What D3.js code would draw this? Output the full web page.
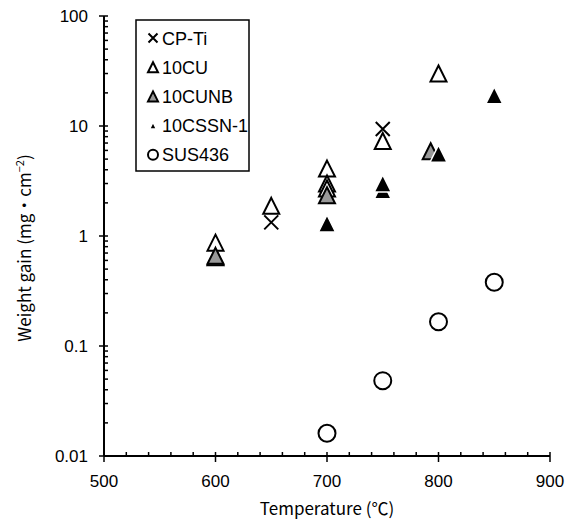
<!DOCTYPE html>
<html><head><meta charset="utf-8">
<script src="https://cdn.jsdelivr.net/npm/d3@7"></script>
<style>html,body{margin:0;padding:0;background:#fff;}</style>
</head><body>
<script>
// ---- data ----
const seriesNames = ["CP-Ti", "10CU", "10CUNB", "10CSSN-1", "SUS436"];
const cpTiTemp = [650, 750];
const cpTiGain = [1.33, 9.4];
const cu10Temp = [600, 650, 700, 700, 700, 750, 800];
const cu10Gain = [0.87, 1.88, 4.1, 3.0, 2.7, 7.3, 30];
const cunb10Temp = [600, 600, 700, 793];
const cunb10Gain = [0.64, 0.66, 2.35, 5.9];
const cssn10Temp = [700, 750, 750, 800, 850];
const cssn10Gain = [1.3, 2.6, 3.0, 5.6, 19];
const sus436Temp = [700, 750, 800, 850];
const sus436Gain = [0.0161, 0.0484, 0.166, 0.38];
const xTicks = [500, 600, 700, 800, 900];
const yTicks = [0.01, 0.1, 1, 10, 100];
const yTickLabels = ["0.01", "0.1", "1", "10", "100"];

const W = 579, H = 521;
const svg = d3.select("body").append("svg").attr("width", W).attr("height", H);

const x = d3.scaleLinear().domain([500, 900]).range([104, 550]);
const y = d3.scaleLog().domain([0.01, 100]).range([456, 16]);

const tickFont = "'Liberation Sans', Arial, sans-serif";
const jpFont = "'Noto Sans CJK JP', 'Liberation Sans', sans-serif";

// x axis
const gx = svg.append("g").attr("transform", `translate(0,${y(0.01)})`);
gx.append("line").attr("x1", x(500)).attr("x2", x(900)).attr("stroke", "#000").attr("stroke-width", 2);
const xMinor = d3.range(520, 900, 20).filter(v => v % 100 !== 0);
gx.selectAll(".xm").data(xMinor).enter().append("line")
  .attr("x1", d => x(d)).attr("x2", d => x(d)).attr("y1", 0).attr("y2", -4)
  .attr("stroke", "#000").attr("stroke-width", 1.5);
gx.selectAll(".xM").data(xTicks).enter().append("line")
  .attr("x1", d => x(d)).attr("x2", d => x(d)).attr("y1", -4).attr("y2", 6)
  .attr("stroke", "#000").attr("stroke-width", 1.5);
gx.selectAll(".xl").data(xTicks).enter().append("text")
  .attr("x", d => x(d)).attr("y", 31).attr("text-anchor", "middle")
  .attr("font-family", tickFont).attr("font-size", 17).text(d => d);

// y axis
const gy = svg.append("g").attr("transform", `translate(${x(500)},0)`);
gy.append("line").attr("y1", y(0.01)).attr("y2", y(100)).attr("stroke", "#000").attr("stroke-width", 2);
const yMinor = [];
[0.01, 0.1, 1, 10].forEach(b => { for (let k = 2; k <= 9; k++) yMinor.push(b * k); });
gy.selectAll(".ym").data(yMinor).enter().append("line")
  .attr("y1", d => y(d)).attr("y2", d => y(d)).attr("x1", 0).attr("x2", 4)
  .attr("stroke", "#000").attr("stroke-width", 1.5);
gy.selectAll(".yM").data(yTicks).enter().append("line")
  .attr("y1", d => y(d)).attr("y2", d => y(d)).attr("x1", -5).attr("x2", 4)
  .attr("stroke", "#000").attr("stroke-width", 1.5);
gy.selectAll(".yl").data(yTicks).enter().append("text")
  .attr("x", -16).attr("y", d => y(d) + 6).attr("text-anchor", "end")
  .attr("font-family", tickFont).attr("font-size", 17).text((d, i) => yTickLabels[i]);

// axis titles
svg.append("text").attr("x", (x(500) + x(900)) / 2).attr("y", 515)
  .attr("text-anchor", "middle").attr("font-family", jpFont).attr("font-size", 17)
  .text("Temperature (℃)");
const yt = svg.append("text").attr("transform", `translate(31,248) rotate(-90)`)
  .attr("text-anchor", "middle").attr("font-family", jpFont).attr("font-size", 17);
yt.append("tspan").text("Weight gain (mg・cm");
yt.append("tspan").attr("dy", -7).attr("font-size", 11).text("−2");
yt.append("tspan").attr("dy", 7).text(")");

// marker shapes
function triPath(s) { const h = s / 2; return `M0,${-h}L${h},${h}L${-h},${h}Z`; }
function crossPath(s) { const h = s / 2; return `M${-h},${-h}L${h},${h}M${h},${-h}L${-h},${h}`; }

const styles = {
  "CP-Ti": { draw: (g, s) => g.append("path").attr("d", crossPath(s)).attr("fill", "none").attr("stroke", "#000").attr("stroke-width", 2) },
  "10CU": { draw: (g, s) => g.append("path").attr("d", triPath(s)).attr("fill", "#fff").attr("stroke", "#000").attr("stroke-width", 2).attr("stroke-linejoin", "miter") },
  "10CUNB": { draw: (g, s) => g.append("path").attr("d", triPath(s)).attr("fill", "#999").attr("stroke", "#000").attr("stroke-width", 2) },
  "10CSSN-1": { draw: (g, s) => g.append("path").attr("d", triPath(s)).attr("fill", "#000").attr("stroke", "#fff").attr("stroke-width", 1.5) },
  "SUS436": { draw: (g, s) => g.append("circle").attr("r", s / 2).attr("fill", "#fff").attr("stroke", "#000").attr("stroke-width", 2) }
};
const sizes = { "CP-Ti": 14, "10CU": 16, "10CUNB": 16, "10CSSN-1": 17, "SUS436": 17 };

const series = [
  { name: "CP-Ti", t: cpTiTemp, v: cpTiGain },
  { name: "10CU", t: cu10Temp, v: cu10Gain },
  { name: "10CUNB", t: cunb10Temp, v: cunb10Gain },
  { name: "10CSSN-1", t: cssn10Temp, v: cssn10Gain },
  { name: "SUS436", t: sus436Temp, v: sus436Gain }
];

const plot = svg.append("g");
series.forEach(s => {
  s.t.forEach((t, i) => {
    const g = plot.append("g").attr("transform", `translate(${x(t)},${y(s.v[i])})`);
    styles[s.name].draw(g, sizes[s.name]);
  });
});

// legend
const lg = svg.append("g");
lg.append("rect").attr("x", 136).attr("y", 20).attr("width", 113).attr("height", 151)
  .attr("fill", "#fff").attr("stroke", "#000").attr("stroke-width", 1.5);
const legSizes = { "CP-Ti": 9, "10CU": 10, "10CUNB": 10, "10CSSN-1": 7, "SUS436": 10 };
seriesNames.forEach((n, i) => {
  const cy = 38 + i * 29.2;
  const g = lg.append("g").attr("transform", `translate(153,${cy})`);
  styles[n].draw(g, legSizes[n]);
  lg.append("text").attr("x", 162).attr("y", cy + 6.5).attr("font-family", tickFont)
    .attr("font-size", 18).text(n);
});
</script>
</body></html>
